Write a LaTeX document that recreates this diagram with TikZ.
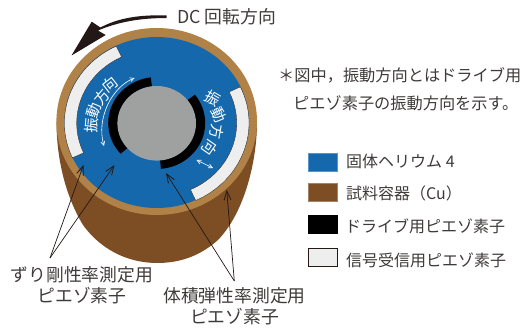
\documentclass[tikz,border=0pt]{standalone}
\usepackage{fontspec}
\setmainfont{Noto Sans CJK JP}
\usetikzlibrary{arrows.meta}
\definecolor{heblue}{HTML}{1568AC}
\definecolor{tanring}{HTML}{B08247}
\definecolor{cubrown}{HTML}{7D4E24}
\definecolor{coregrey}{HTML}{9FA0A0}
\definecolor{sigwhite}{HTML}{EEEEEE}
\definecolor{inkdark}{HTML}{231815}
\definecolor{txtgrey}{HTML}{3E3A39}
\newcommand{\ringsec}[7]{\path[#1,shift={(156.7,123)}] (#2:#4 and #5) arc[start angle=#2,end angle=#3,x radius=#4,y radius=#5] -- (#3:#6 and #7) arc[start angle=#3,end angle=#2,x radius=#6,y radius=#7] -- cycle;}
\tikzset{
  lbl/.style={font=\fontsize{17.8}{21}\selectfont,text=txtgrey,inner sep=0pt,align=center},
  legtxt/.style={font=\fontsize{16}{18}\selectfont,text=txtgrey,inner sep=0pt,anchor=west},
  note/.style={font=\fontsize{16.2}{18}\selectfont,text=txtgrey,inner sep=0pt,anchor=west},
  swatch/.style={minimum width=29pt,minimum height=18pt,inner sep=0pt,draw=#1,line width=.4pt},
  ptr/.style={draw=inkdark,line width=.7pt,-{Straight Barb[length=9pt,width=7pt,line width=.8pt]}},
  vib/.style={font=\fontsize{15}{15}\selectfont,text=white,inner sep=0pt},
  vibarrow/.style={draw=white,line width=.6pt,{Straight Barb[length=4pt,width=4pt]}-{Straight Barb[length=4pt,width=4pt]}}
}
\begin{document}
\begin{tikzpicture}[x=1pt,y=1pt,yscale=-1]
\useasboundingbox (0,0) rectangle (520,329);
% body
\fill[cubrown] (56.5,122) .. controls (56.5,150) and (62,190) .. (83,225) .. controls (105,255) and (135,263) .. (157,263) .. controls (180,263) and (200,256) .. (218,240) .. controls (245,212) and (257,160) .. (257,122) -- cycle;
\fill[tanring] (156.7,121.5) ellipse[x radius=100.3,y radius=93.5];
\fill[heblue] (156.7,122.5) ellipse[x radius=92.3,y radius=85.5];
% signal elements
\ringsec{fill=sigwhite,draw=inkdark,line width=.3pt}{-116}{-204}{92.3}{85.5}{80}{73.5}
\ringsec{fill=sigwhite,draw=inkdark,line width=.3pt}{-25}{65}{92.3}{85.5}{80}{73.5}
% drive elements
\ringsec{fill=black}{-97}{-222}{48.5}{46}{39}{37}
\ringsec{fill=black}{-38}{85}{48.5}{46}{39}{37}
\fill[coregrey] (156.7,123.3) ellipse[x radius=39.3,y radius=37.3];
% rotation arrow
\fill[inkdark] (166.5,15.5) .. controls (140,14.5) and (118,18) .. (100.5,27.5) -- (91.7,21.7) -- (71.5,55.5) -- (105.7,35) -- (98,30.5) .. controls (118,22) and (140,18) .. (166.5,18) -- cycle;
\node[font=\fontsize{17.8}{20}\selectfont,text=txtgrey,inner sep=0pt,anchor=west] (dc) at (177,17) {DC 回転方向};
% vibration text
\node[vib,rotate=85] (va) at (91.7,126) {振};
\node[vib,rotate=70] (vb) at (94.3,110.7) {動};
\node[vib,rotate=50] (vc) at (101.7,97.3) {方};
\node[vib,rotate=38] (vd) at (110,84.3) {向};
\node[vib,rotate=-30] (ve) at (213.3,98.3) {振};
\node[vib,rotate=-65] (vf) at (219,115) {動};
\node[vib,rotate=-100] (vg) at (216.7,131.7) {方};
\node[vib,rotate=-125] (vh) at (210,148.3) {向};
\coordinate (v1) at (134.5,78);
\coordinate (v2) at (104,146);
\coordinate (v3) at (196.5,160);
\coordinate (v4) at (213,168);
\draw[vibarrow] (v1) .. controls (112,87) and (96,118) .. (v2);
\draw[vibarrow] (v3) -- (v4);
% note
\node[note] (n1) at (278,75) {＊図中，振動方向とはドライブ用};
\node[note] (n2) at (293,103) {ピエゾ素子の振動方向を示す。};
% legend
\node[swatch=heblue!70!white,fill=heblue] (s1) at (323,161.7) {};
\node[swatch=cubrown!70!white,fill=cubrown] (s2) at (323,192.5) {};
\node[swatch=black,fill=black] (s3) at (323,224) {};
\node[swatch=inkdark,fill=sigwhite] (s4) at (323,257.3) {};
\node[legtxt] (t1) at (346,161.7) {固体ヘリウム 4};
\node[legtxt] (t2) at (346,193) {試料容器（Cu）};
\node[legtxt] (t3) at (345,226.7) {ドライブ用ピエゾ素子};
\node[legtxt] (t4) at (346,260.7) {信号受信用ピエゾ素子};
% labels
\node[lbl] (la) at (82,285.5) {ずり剛性率測定用\\ピエゾ素子};
\node[lbl] (lb) at (234.5,306) {体積弾性率測定用\\ピエゾ素子};
\coordinate (apexa) at (50,258);
\coordinate (apexb) at (234.3,281);
\coordinate (ta) at (83.5,165);
\coordinate (tb) at (114.5,165);
\coordinate (tc) at (166,173);
\coordinate (td) at (226.7,190);
\draw[ptr] (apexa) -- (ta);
\draw[ptr] (apexa) -- (tb);
\draw[ptr] (apexb) -- (tc);
\draw[ptr] (apexb) -- (td);
\end{tikzpicture}
\end{document}
